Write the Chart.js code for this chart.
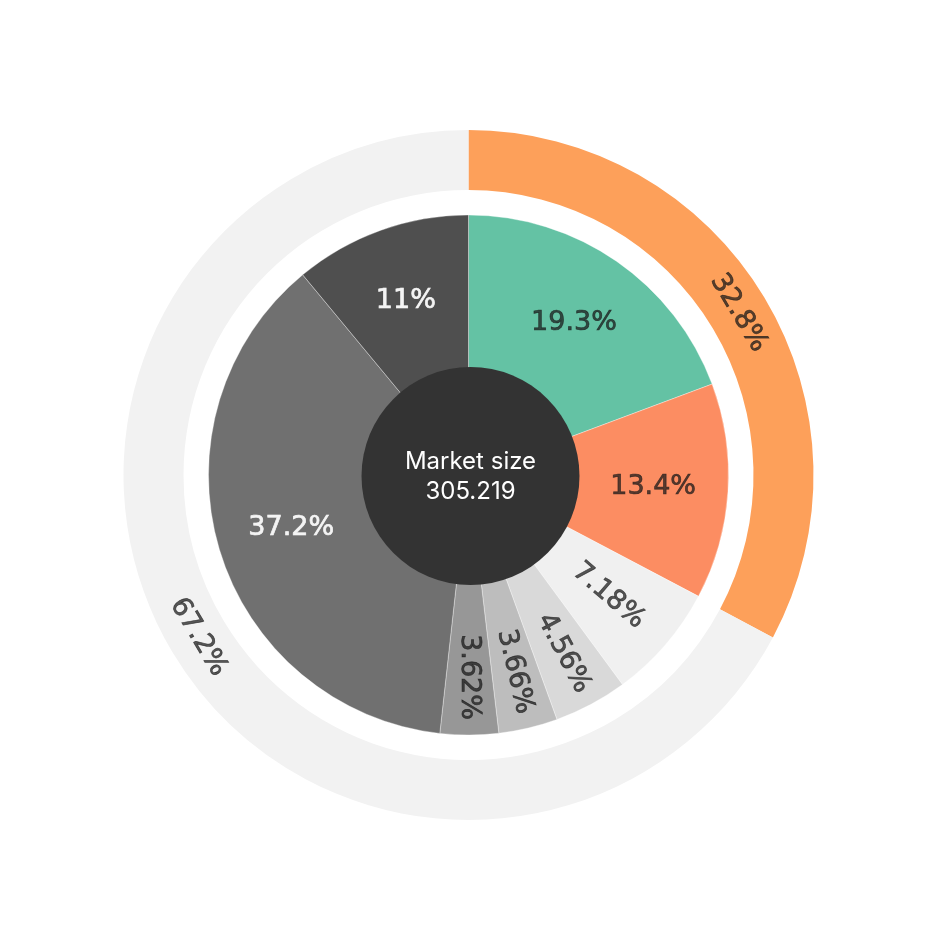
<!DOCTYPE html>
<html>
<head>
<meta charset="utf-8">
<script src="https://cdn.jsdelivr.net/npm/chart.js@4"></script>
<style>
  html, body { margin: 0; padding: 0; background: #fff; }
  #wrap { width: 946px; height: 950px; }
</style>
</head>
<body>
<div id="wrap"><canvas id="chart"></canvas></div>
<script>
// inner pie (segments clockwise from 12 o'clock)
const innerLabels = ["A", "B", "C", "D", "E", "F", "G", "H"];
const innerValues = [19.3, 13.4, 7.18, 4.56, 3.66, 3.62, 37.2, 11];
const innerColors = ["#64c2a4", "#fc8d62", "#f0f0f0", "#d9d9d9", "#bdbdbd", "#979797", "#707070", "#4f4f4f"];
const innerText = ["19.3%", "13.4%", "7.18%", "4.56%", "3.66%", "3.62%", "37.2%", "11%"];

// outer ring
const outerLabels = ["Group 1", "Group 2"];
const outerValues = [32.8, 67.2];
const outerColors = ["#fda05a", "#f2f2f2"];
const outerText = ["32.8%", "67.2%"];

const centerTitle = "Market size";
const centerValue = "305.219";

const darkText = "rgba(25,25,25,0.72)";
const lightText = "#f4f4f4";

function isDark(hex) {
  const n = parseInt(hex.slice(1), 16);
  const r = n >> 16, g = (n >> 8) & 255, b = n & 255;
  return (r * 0.3 + g * 0.59 + b * 0.11) < 120;
}

function drawLabel(ctx, text, color) {
  ctx.fillStyle = color;
  ctx.strokeStyle = color;
  ctx.lineWidth = 0.7;
  ctx.fillText(text, 0, 0);
  ctx.strokeText(text, 0, 0);
}

const labelPlugin = {
  id: "labels",
  afterDatasetsDraw(chart) {
    const ctx = chart.ctx;
    const outerMeta = chart.getDatasetMeta(0);
    const innerMeta = chart.getDatasetMeta(2);
    const cx = outerMeta.data[0].x, cy = outerMeta.data[0].y;

    ctx.save();
    ctx.font = "27px 'DejaVu Sans'";
    ctx.textAlign = "center";
    ctx.textBaseline = "middle";

    // inner slice labels
    innerMeta.data.forEach((arc, i) => {
      const mid = (arc.startAngle + arc.endAngle) / 2;
      const narrow = innerValues[i] < 10;
      const r = innerValues[i] < 5 ? 202 : 185;
      const x = cx + Math.cos(mid) * r, y = cy + Math.sin(mid) * r;
      ctx.save();
      ctx.translate(x, y);
      if (narrow) {
        let rot = mid;
        if (Math.cos(rot) < -0.01) rot += Math.PI;
        ctx.rotate(rot);
      }
      drawLabel(ctx, innerText[i], isDark(innerColors[i]) ? lightText : darkText);
      ctx.restore();
    });

    // outer ring labels, written along the ring
    outerMeta.data.forEach((arc, i) => {
      const mid = (arc.startAngle + arc.endAngle) / 2;
      const r = (arc.innerRadius + arc.outerRadius) / 2;
      const x = cx + Math.cos(mid) * r, y = cy + Math.sin(mid) * r;
      let rot = mid + Math.PI / 2;
      if (Math.cos(rot) < -0.01) rot += Math.PI;
      ctx.save();
      ctx.translate(x, y);
      ctx.rotate(rot);
      drawLabel(ctx, outerText[i], darkText);
      ctx.restore();
    });

    // center disc
    ctx.beginPath();
    ctx.arc(cx + 2, cy + 1, 109, 0, Math.PI * 2);
    ctx.fillStyle = "#333333";
    ctx.fill();
    ctx.fillStyle = "#ffffff";
    ctx.font = "24px Inter";
    ctx.textBaseline = "alphabetic";
    ctx.fillText(centerTitle, cx + 2, cy - 6);
    ctx.fillText(centerValue, cx + 2, cy + 24);
    ctx.restore();
  }
};

new Chart(document.getElementById("chart"), {
  type: "doughnut",
  data: {
    labels: innerLabels,
    datasets: [
      {
        label: "outer",
        data: outerValues,
        backgroundColor: outerColors,
        borderWidth: 0,
        weight: 60
      },
      {
        label: "gap",
        data: [1],
        backgroundColor: "rgba(0,0,0,0)",
        borderWidth: 0,
        weight: 25
      },
      {
        label: "inner",
        data: innerValues,
        backgroundColor: innerColors,
        borderColor: "rgba(255,255,255,0.35)",
        borderWidth: 1,
        weight: 160
      }
    ]
  },
  options: {
    responsive: true,
    maintainAspectRatio: false,
    animation: false,
    cutout: 100,
    rotation: 0,
    layout: { padding: { left: 123, right: 132, top: 130, bottom: 130 } },
    plugins: {
      legend: { display: false },
      tooltip: { enabled: false }
    },
    events: []
  },
  plugins: [labelPlugin]
});
</script>
</body>
</html>
